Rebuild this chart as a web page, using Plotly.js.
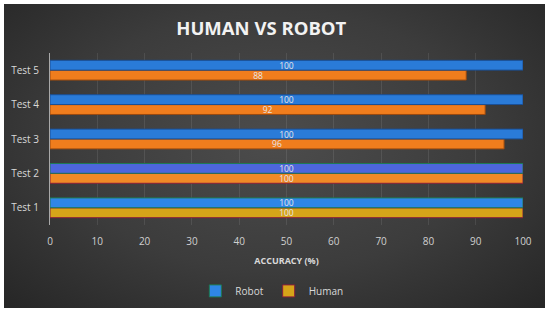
<!DOCTYPE html>
<html>
<head>
<meta charset="utf-8">
<script src="https://cdn.plot.ly/plotly-3.0.1.min.js"></script>
<style>
html,body{margin:0;padding:0;background:#fff;}
#bg{position:absolute;left:4px;top:4px;width:541px;height:304px;
background:radial-gradient(ellipse at 50% 45%, #4c4c4c 0%, #3c3c3c 55%, #262626 100%);}
#chart{position:absolute;left:0;top:0;width:550px;height:316px;}
</style>
</head>
<body>
<div id="bg"></div>
<div id="chart"></div>
<script>
var categories = ["Test 1", "Test 2", "Test 3", "Test 4", "Test 5"];
var robot = [100, 100, 100, 100, 100];
var human = [100, 100, 96, 92, 88];
var xTicks = [0, 10, 20, 30, 40, 50, 60, 70, 80, 90, 100];

var robotColors = ["#2f86e6", "#4d66dc", "#2a7bd8", "#2a7bd8", "#2a7bd8"];
var robotLines = ["#1e7a55", "#1e7a55", "#1a4f95", "#1a4f95", "#1a4f95"];
var humanColors = ["#d6a419", "#f08a26", "#f07d1d", "#f07d1d", "#f07d1d"];
var humanLines = ["#8a1f3a", "#8a1f3a", "#9a4a10", "#9a4a10", "#9a4a10"];

var textFont = {family: "Open Sans, sans-serif", size: 8.5, color: "#e6e6e6"};

var data = [
  {
    type: "bar", orientation: "h", name: "Human",
    y: categories, x: human,
    text: human.map(String), textposition: "inside", insidetextanchor: "middle",
    constraintext: "none",
    textfont: textFont, textangle: 0,
    marker: {color: humanColors, line: {color: humanLines, width: 1}},
    hoverinfo: "none"
  },
  {
    type: "bar", orientation: "h", name: "Robot",
    y: categories, x: robot,
    text: robot.map(String), textposition: "inside", insidetextanchor: "middle",
    constraintext: "none",
    textfont: textFont, textangle: 0,
    marker: {color: robotColors, line: {color: robotLines, width: 1}},
    hoverinfo: "none"
  }
];

var layout = {
  width: 550, height: 316,
  paper_bgcolor: "rgba(0,0,0,0)",
  plot_bgcolor: "rgba(0,0,0,0)",
  margin: {l: 50, r: 27, t: 53, b: 90},
  barmode: "group",
  bargap: 0.42,
  bargroupgap: 0.02,
  showlegend: true,
  title: {
    text: "<b>HUMAN VS ROBOT</b>",
    font: {family: "Open Sans, sans-serif", size: 18.5, color: "#f2f2f2"},
    x: 0.475, xanchor: "center", xref: "container",
    y: 0.91, yanchor: "middle"
  },
  xaxis: {
    range: [0, 100],
    tickvals: xTicks,
    ticktext: xTicks.map(String),
    showgrid: true,
    gridcolor: "rgba(255,255,255,0.09)",
    gridwidth: 1,
    zeroline: false,
    showline: false,
    ticks: "",
    ticklabelstandoff: 9,
    tickfont: {family: "Open Sans, sans-serif", size: 10, color: "#d0d0d0"},
    title: {
      text: "<b>ACCURACY (%)</b>",
      font: {family: "Open Sans, sans-serif", size: 9, color: "#d9d9d9"},
      standoff: 10
    },
    automargin: false,
    fixedrange: true
  },
  yaxis: {
    type: "category",
    showgrid: false,
    zeroline: false,
    showline: true,
    linecolor: "#a8a8a8",
    linewidth: 1,
    ticks: "",
    ticklabelstandoff: 8,
    tickfont: {family: "Open Sans, sans-serif", size: 10, color: "#d9d9d9"},
    automargin: false,
    fixedrange: true
  },
  legend: {
    orientation: "h",
    x: 0.469, xanchor: "center",
    y: -0.375, yanchor: "middle",
    traceorder: "reversed",
    font: {family: "Open Sans, sans-serif", size: 10, color: "#d9d9d9"},
    bgcolor: "rgba(0,0,0,0)",
    itemwidth: 30,
    tracegroupgap: 0
  }
};

Plotly.newPlot("chart", data, layout, {displayModeBar: false, staticPlot: true});
</script>
</body>
</html>
